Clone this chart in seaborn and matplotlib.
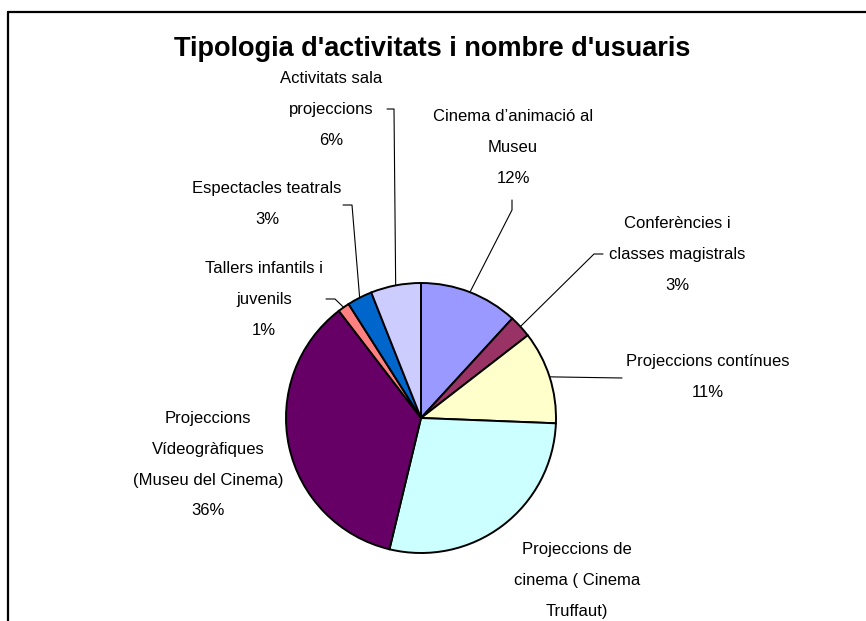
import numpy as np
import matplotlib
matplotlib.use("Agg")
import matplotlib.pyplot as plt
from matplotlib.lines import Line2D
import seaborn as sns

# ---- data ----
categories = [
    "Cinema d\u2019animació al\nMuseu",
    "Conferències i\nclasses magistrals",
    "Projeccions contínues",
    "Projeccions de\ncinema ( Cinema\nTruffaut)",
    "Projeccions\nVídeogràfiques\n(Museu del Cinema)",
    "Tallers infantils i\njuvenils",
    "Espectacles teatrals",
    "Activitats sala\nprojeccions",
]
values = [11.8, 2.7, 11.1, 28.1, 35.8, 1.4, 3.0, 6.0]
colors = ["#9999FF", "#993366", "#FFFFCC", "#CCFFFF", "#660066", "#FF8080", "#0066CC", "#CCCCFF"]
title = "Tipologia d'activitats i nombre d'usuaris"

# ---- layout (pixels) ----
W, H = 866, 621
CX, CY, R = 421, 418, 135
label_xy = [(513, 115), (677, 222), (708, 360), (577, 548), (208, 417), (264, 267), (267, 187), (331, 77)]
line_step = 30.8
# leader lines: (elbow, end) in pixels or None
leaders = [((512, 210), (512, 200)),
           ((594, 254), (603, 254)),
           ((622, 378), (622, 378)),
           None, None,
           ((335, 299), (326, 299)),
           ((352, 205), (343, 205)),
           ((394, 109), (387, 109))]

sns.set_theme(style="white")
plt.rcParams['font.family'] = ['Liberation Sans', 'DejaVu Sans']
plt.rcParams['text.color'] = 'black'

fig = plt.figure(figsize=(W / 100, H / 100), dpi=100)
fig.patch.set_facecolor("white")
pad = 1.1
ax = fig.add_axes([(CX - R * pad) / W, (H - CY - R * pad) / H, 2 * R * pad / W, 2 * R * pad / H])

wedges, _ = ax.pie(values, colors=colors, startangle=90, counterclock=False, radius=1,
                   wedgeprops=dict(edgecolor="black", linewidth=1.4))
ax.set_xlim(-pad, pad)
ax.set_ylim(-pad, pad)
ax.set_aspect("equal")
ax.axis("off")

def px2fig(x, y):
    return x / W, 1 - y / H

def px2data(x, y):
    return (x - CX) / R, (CY - y) / R

total = sum(values)
fs = 12
for i, (cat, v) in enumerate(zip(categories, values)):
    lines = cat.split("\n") + [f"{round(v / total * 100):d}%"]
    x0, y0 = label_xy[i]
    for j, ln in enumerate(lines):
        y = y0 + j * line_step
        if y > H:
            continue  # outside the visible canvas, as in the reference
        fx, fy = px2fig(x0, y)
        fig.text(fx, fy, ln, ha="center", va="center_baseline", fontsize=fs, color="black")
    ld = leaders[i]
    if ld is not None:
        w = wedges[i]
        ang = np.deg2rad((w.theta1 + w.theta2) / 2)
        sx, sy = np.cos(ang), np.sin(ang)
        ex, ey = px2data(*ld[0])
        tx, ty = px2data(*ld[1])
        ax.add_line(Line2D([sx, ex, tx], [sy, ey, ty], color="black", lw=0.8, clip_on=False))

fx, fy = px2fig(432, 46)
fig.text(fx, fy, title, ha="center", va="center_baseline", fontsize=19.5, fontweight="bold",
         color="black")

# chart frame
fig.add_artist(Line2D([8 / W, 1.0], [1 - 12 / H, 1 - 12 / H], color="black", lw=1.6, transform=fig.transFigure))
fig.add_artist(Line2D([8 / W, 8 / W], [1 - 12 / H, 0.0], color="black", lw=1.6, transform=fig.transFigure))

fig.savefig("out.png", dpi=100, facecolor="white")
